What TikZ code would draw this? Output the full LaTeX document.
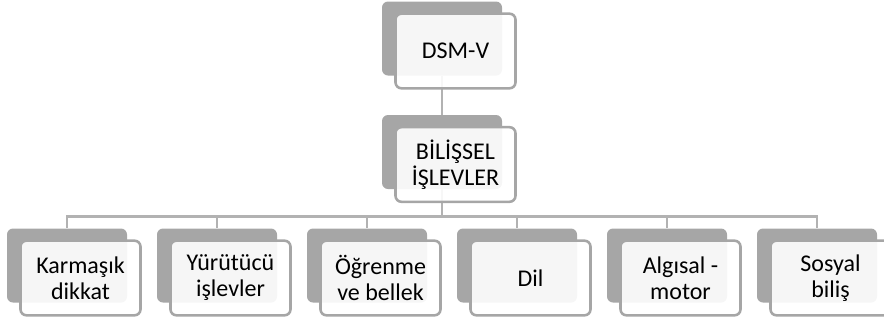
\documentclass[tikz,border=0pt]{standalone}
\usepackage{fontspec}
\setmainfont{Carlito}
\definecolor{boxgray}{HTML}{A6A6A6}
\definecolor{edgegray}{HTML}{A6A6A6}
\definecolor{linegray}{HTML}{B2B2B2}

\begin{document}
\begin{tikzpicture}[x=0.75pt, y=-0.75pt, font=\fontsize{18}{19.5}\selectfont,
    backbox/.style={fill=boxgray, rounded corners=4.5pt, inner sep=0pt,
      minimum width=90pt, minimum height=55.5pt},
    frontbox/.style={draw=edgegray, line width=1.9pt, fill=white, fill opacity=0.9,
      text opacity=1, rounded corners=4.5pt, inner sep=0pt, align=center,
      minimum width=90pt, minimum height=56pt},
    link/.style={draw=linegray, line width=2.2pt}]
  \useasboundingbox (0,0) rectangle (884,322);
  \clip (0,0) rectangle (884,322);
  % back boxes
  \node[backbox] (dsmb) at (442,38.5) {};
  \node[backbox] (bilb) at (442,152) {};
  \foreach \i in {1,...,6}
    \node[backbox] (cb\i) at (67+150*\i-150,265.5) {};
  % connectors
  \draw[link] (dsmb.south) -- (bilb.north);
  \foreach \i in {1,...,6}
    \draw[link] (bilb.south) -- ++(0,27) -| (cb\i.north);
  % front boxes
  \node[frontbox] (dsm) at (455.5,51) {DSM-V};
  \node[frontbox] (bil) at (455.5,164.5) {BİLİŞSEL\\İŞLEVLER};
  \foreach \i/\txt in {1/Karmaşık\\dikkat, 2/Yürütücü\\işlevler,
      3/Öğrenme\\ve bellek, 4/Dil, 5/Algısal -\\motor, 6/Sosyal\\biliş}
    \node[frontbox] (c\i) at (80.5+150*\i-150,278) {\txt};
\end{tikzpicture}
\end{document}
